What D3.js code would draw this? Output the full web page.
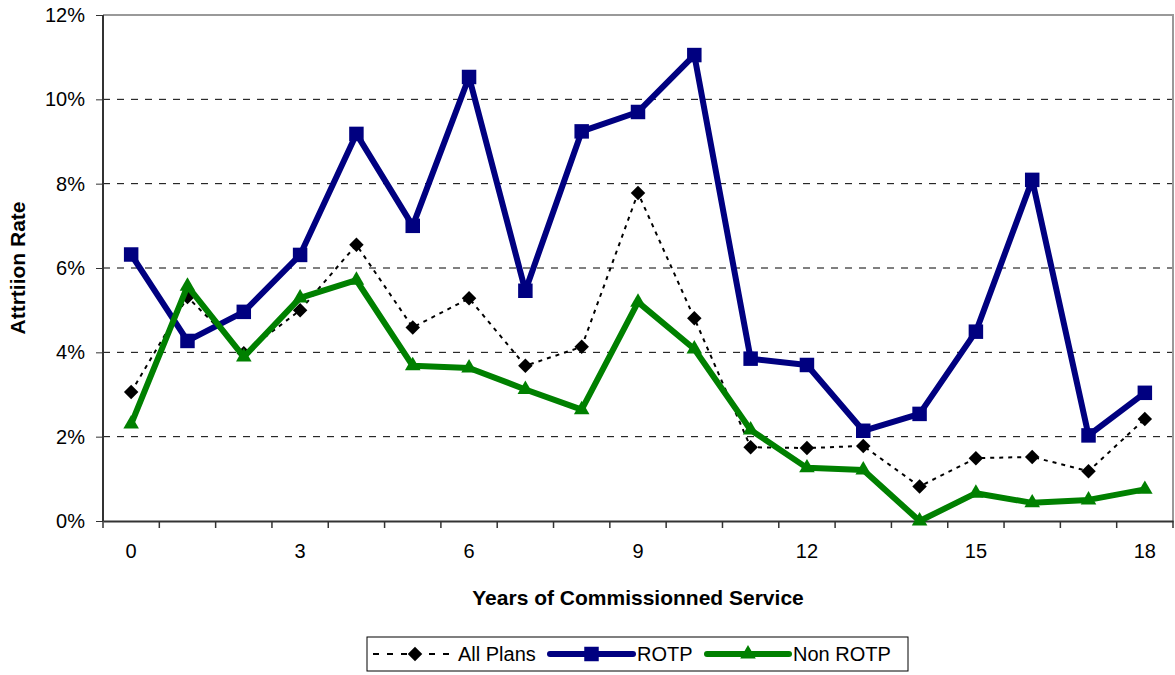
<head>
  <script src="https://d3js.org/d3.v7.min.js"></script>
</head>
<style>
  body { margin: 0; background: #fff; }
  text { font-family: "Liberation Sans", Arial, sans-serif; }
</style>
<body>
  <div id="div_chart">
    <svg id="svg_chart"/>
  </div>
</body>
<script>
  var w = 1175;
  var h = 675;
  var margin = {top: 15, right: 2, bottom: 154, left: 103};
  var w_wo_margins = w - margin.left - margin.right;
  var h_wo_margins = h - margin.top - margin.bottom;

  // data
  var years = d3.range(0, 19);
  var yTicks = [0, 0.02, 0.04, 0.06, 0.08, 0.10, 0.12];
  var xLabels = [0, 3, 6, 9, 12, 15, 18];
  var allPlans = [3.06, 5.31, 3.98, 5.00, 6.55, 4.59, 5.28, 3.68, 4.13, 7.78, 4.81, 1.75, 1.73, 1.78, 0.82, 1.49, 1.52, 1.18, 2.42];
  var rotp     = [6.32, 4.27, 4.96, 6.31, 9.18, 7.00, 10.53, 5.46, 9.24, 9.70, 11.05, 3.85, 3.70, 2.14, 2.54, 4.49, 8.09, 2.03, 3.04];
  var nonRotp  = [2.30, 5.57, 3.89, 5.29, 5.71, 3.68, 3.63, 3.12, 2.64, 5.19, 4.08, 2.16, 1.26, 1.21, 0.00, 0.66, 0.43, 0.50, 0.75];

  var series = [
    {name: "All Plans", values: allPlans, color: "#000", width: 2, dash: "4,5", symbol: "diamond"},
    {name: "ROTP", values: rotp, color: "#000080", width: 6, dash: null, symbol: "square"},
    {name: "Non ROTP", values: nonRotp, color: "#008000", width: 6, dash: null, symbol: "triangle"}
  ];

  var svg = d3.select("svg#svg_chart")
      .attr("width", w)
      .attr("height", h);

  var g = svg.append("g")
      .attr("transform", "translate(" + margin.left + "," + margin.top + ")");

  var x = d3.scaleBand()
      .domain(years)
      .range([0, w_wo_margins])
      .padding(0);

  var y = d3.scaleLinear()
      .domain([0, 0.12])
      .range([h_wo_margins, 0]);

  // gridlines
  g.append("g").selectAll("line")
      .data(yTicks.filter(function(d){ return d > 0 && d < 0.12; }))
      .enter().append("line")
      .attr("x1", 0).attr("x2", w_wo_margins)
      .attr("y1", function(d){ return y(d); })
      .attr("y2", function(d){ return y(d); })
      .style("stroke", "#000")
      .style("stroke-width", 1)
      .style("stroke-dasharray", "7,7");

  // plot border (top + right)
  g.append("path")
      .attr("d", "M0," + y(0.12) + "H" + w_wo_margins + "V" + h_wo_margins)
      .style("fill", "none")
      .style("stroke", "#999")
      .style("stroke-width", 2);

  // y axis
  var yAxis = g.append("g")
      .call(d3.axisLeft(y).tickValues(yTicks).tickSize(7).tickPadding(11).tickFormat(d3.format(".0%")));
  yAxis.select(".domain").style("stroke", "#333").style("stroke-width", 2).attr("d", "M0,0V" + h_wo_margins);
  yAxis.selectAll(".tick line").style("stroke", "#333");
  yAxis.selectAll("text").style("font-size", "20px").style("fill", "#000");

  // x axis: labels at category centres, ticks at category boundaries
  var xAxis = g.append("g")
      .attr("transform", "translate(0," + h_wo_margins + ")")
      .call(d3.axisBottom(x).tickValues(xLabels).tickSize(0).tickPadding(23));
  xAxis.select(".domain").style("stroke", "#333").style("stroke-width", 2);
  xAxis.selectAll("text").style("font-size", "20px").style("fill", "#000");
  xAxis.selectAll(".bound")
      .data(years.concat([19]))
      .enter().append("line")
      .attr("class", "bound")
      .attr("x1", function(d){ return d < 19 ? x(d) : w_wo_margins; })
      .attr("x2", function(d){ return d < 19 ? x(d) : w_wo_margins; })
      .attr("y1", 0).attr("y2", 7)
      .style("stroke", "#333")
      .style("stroke-width", 1.5);

  // axis titles
  svg.append("text")
      .attr("x", margin.left + w_wo_margins / 2)
      .attr("y", 605)
      .attr("text-anchor", "middle")
      .style("font-size", "21px")
      .style("font-weight", "bold")
      .text("Years of Commissionned Service");

  svg.append("text")
      .attr("transform", "translate(25," + (margin.top + h_wo_margins / 2) + ") rotate(-90)")
      .attr("text-anchor", "middle")
      .style("font-size", "21px")
      .style("font-weight", "bold")
      .text("Attrtiion Rate");

  function symbolPath(kind) {
    if (kind === "square") return d3.symbol().type(d3.symbolSquare).size(210)();
    if (kind === "diamond") return d3.symbol().type(d3.symbolSquare).size(105)();
    return d3.symbol().type(d3.symbolTriangle).size(105)();
  }
  function symbolTransform(kind, px, py) {
    if (kind === "diamond") return "translate(" + px + "," + py + ") rotate(45)";
    return "translate(" + px + "," + py + ")";
  }

  var line = d3.line()
      .x(function(d, i){ return x(years[i]) + x.bandwidth() / 2; })
      .y(function(d){ return y(d / 100); });

  series.forEach(function(s){
    var sg = g.append("g");
    sg.append("path")
        .datum(s.values)
        .attr("d", line)
        .style("fill", "none")
        .style("stroke", s.color)
        .style("stroke-width", s.width)
        .style("stroke-linejoin", "round")
        .style("stroke-dasharray", s.dash);
    sg.selectAll(".mark")
        .data(s.values)
        .enter().append("path")
        .attr("class", "mark")
        .attr("d", symbolPath(s.symbol))
        .attr("transform", function(d, i){
          return symbolTransform(s.symbol, x(years[i]) + x.bandwidth() / 2, y(d / 100));
        })
        .style("fill", s.color);
  });

  // legend
  var legend = svg.append("g");
  legend.append("rect")
      .attr("x", 367).attr("y", 637)
      .attr("width", 541).attr("height", 34)
      .style("fill", "#fff")
      .style("stroke", "#000")
      .style("stroke-width", 1);

  var legendPos = [
    {x1: 373, x2: 457, tx: 458},
    {x1: 550, x2: 633, tx: 637},
    {x1: 707, x2: 789, tx: 793}
  ];
  series.forEach(function(s, i){
    var p = legendPos[i];
    var cy = 654;
    legend.append("line")
        .attr("x1", p.x1).attr("x2", p.x2)
        .attr("y1", cy).attr("y2", cy)
        .style("stroke", s.color)
        .style("stroke-width", s.width)
        .style("stroke-linecap", s.dash ? "butt" : "round")
        .style("stroke-dasharray", s.dash ? "6,8" : null);
    legend.append("path")
        .attr("d", symbolPath(s.symbol))
        .attr("transform", symbolTransform(s.symbol, (p.x1 + p.x2) / 2, cy))
        .style("fill", s.color);
    legend.append("text")
        .attr("x", p.tx).attr("y", cy + 7)
        .style("font-size", "20px")
        .text(s.name);
  });
</script>
